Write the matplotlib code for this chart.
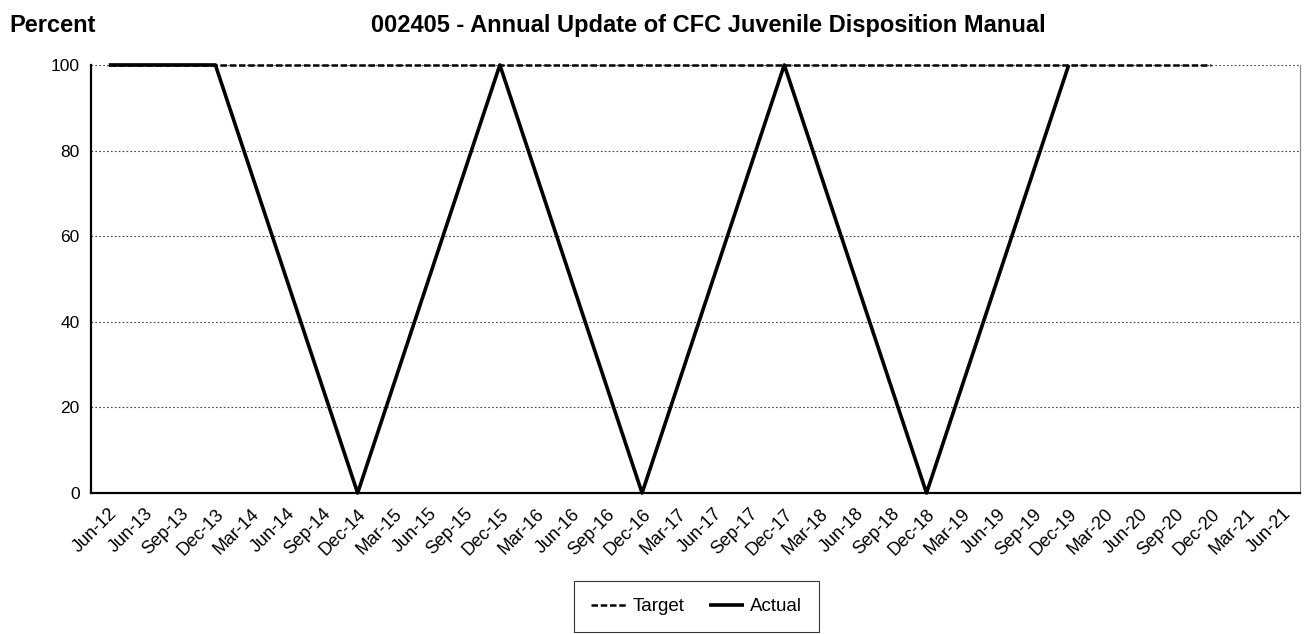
import matplotlib.pyplot as plt
import numpy as np

plt.rcParams['font.family'] = ['Liberation Sans', 'DejaVu Sans']

quarters = ["Jun-12", "Jun-13", "Sep-13", "Dec-13", "Mar-14", "Jun-14", "Sep-14", "Dec-14",
            "Mar-15", "Jun-15", "Sep-15", "Dec-15", "Mar-16", "Jun-16", "Sep-16", "Dec-16",
            "Mar-17", "Jun-17", "Sep-17", "Dec-17", "Mar-18", "Jun-18", "Sep-18", "Dec-18",
            "Mar-19", "Jun-19", "Sep-19", "Dec-19", "Mar-20", "Jun-20", "Sep-20", "Dec-20",
            "Mar-21", "Jun-21"]

# None = no value reported for that quarter
actual = [100, 100, 100, 100, None, None, None, 0,
          None, None, None, 100, None, None, None, 0,
          None, None, None, 100, None, None, None, 0,
          None, None, None, 100, None, None, None, None,
          None, None]
target = [100] * 32 + [None, None]

def points(vals):
    xs = [i for i, v in enumerate(vals) if v is not None]
    ys = [v for v in vals if v is not None]
    return xs, ys

fig = plt.figure(figsize=(13.09, 6.34), dpi=100)
ax = fig.add_axes([0.0695, 0.2224, 0.9235, 0.6751])

tx, ty = points(target)
axx, axy = points(actual)
l1, = ax.plot(tx, ty, color='black', lw=1.8, ls=(0, (2.6, 1.1)), label='Target',
              zorder=3, clip_on=False)
l2, = ax.plot(axx, axy, color='black', lw=2.6, label='Actual', zorder=4,
              clip_on=False, solid_capstyle='butt')

ax.set_xlim(-0.5, len(quarters) - 0.5)
ax.set_ylim(0, 100)
ax.set_xticks(np.arange(len(quarters)))
ax.set_xticklabels(quarters, rotation=45, ha='right', rotation_mode='anchor', fontsize=13)
ax.set_yticks([0, 20, 40, 60, 80, 100])
ax.tick_params(axis='y', length=0, labelsize=12.5, pad=8)
ax.tick_params(axis='x', length=0, pad=9)
ax.yaxis.grid(True, ls=(0, (1.5, 2)), color='#444444', lw=0.8)

ax.spines['top'].set_visible(False)
ax.spines['right'].set_color('#888888')
ax.spines['right'].set_linewidth(0.8)
ax.spines['left'].set_linewidth(1.6)
ax.spines['bottom'].set_linewidth(1.6)

fig.text(0.007, 0.978, "Percent", fontsize=17, fontweight='bold', va='top')
fig.text(0.541, 0.978, "002405 - Annual Update of CFC Juvenile Disposition Manual",
         fontsize=17, fontweight='bold', va='top', ha='center')

leg = fig.legend([l1, l2], ['Target', 'Actual'], loc='lower center', bbox_to_anchor=(0.532, 0.0),
                 ncol=2, fontsize=13.5, frameon=True, fancybox=False, handlelength=1.9,
                 columnspacing=1.3, handletextpad=0.3, borderpad=0.9, borderaxespad=0.1)
leg.get_frame().set_edgecolor('black')
leg.get_frame().set_linewidth(0.8)

fig.savefig('out.png', dpi=100)
